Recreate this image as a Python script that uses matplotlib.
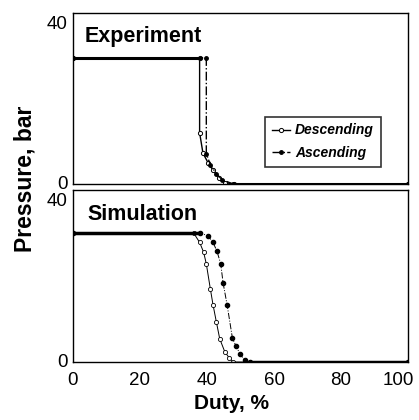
import matplotlib.pyplot as plt
from matplotlib.transforms import ScaledTranslation

# experiment
exp_desc_x = [0, 37.8, 37.8, 38.8, 40.3, 41.8, 43.5, 45.3, 48, 100]
exp_desc_y = [29.5, 29.5, 12.0, 7.2, 5.0, 3.2, 1.5, 0.3, 0, 0]
exp_asc_x = [0, 39.8, 39.8, 41.0, 42.8, 44.5, 47.8, 100]
exp_asc_y = [29.5, 29.5, 7.1, 4.5, 2.4, 1.0, 0, 0]

# simulation
sim_desc_x = [0, 36, 37.8, 39.0, 39.8, 41.0, 41.8, 42.8, 43.8, 45.3, 46.6, 47.8, 100]
sim_desc_y = [30, 30, 27.8, 25.5, 22.8, 17.0, 13.3, 9.3, 5.4, 2.4, 1.0, 0, 0]
sim_asc_x = [0, 38, 40.3, 41.8, 43.0, 44.1, 44.8, 46.0, 47.6, 48.6, 49.9, 51.2, 52.7, 100]
sim_asc_y = [30, 30, 29.3, 27.8, 25.7, 22.8, 18.4, 13.3, 5.5, 3.8, 1.8, 0.5, 0, 0]

xticks = [0, 20, 40, 60, 80, 100]
yticks = [0, 40]

plt.rcParams['font.family'] = ['Liberation Sans', 'DejaVu Sans']
bold = dict(fontweight='bold')

fig = plt.figure(figsize=(4.19, 4.20), dpi=100)
ax1 = fig.add_axes([0.174, 0.562, 0.80, 0.407])
ax2 = fig.add_axes([0.174, 0.138, 0.80, 0.410])

for ax in (ax1, ax2):
    ax.set_xlim(0, 100)
    ax.set_ylim(0, 40)
    ax.set_yticks(yticks)
    ax.tick_params(axis='y', length=0, labelsize=13.5, pad=4)
    ax.tick_params(axis='x', length=0, labelsize=13.5, pad=7)
    for s in ax.spines.values():
        s.set_linewidth(1.0)
    lo, hi = ax.get_yticklabels()
    lo.set_transform(lo.get_transform() + ScaledTranslation(0, 1 / 72, fig.dpi_scale_trans))
    hi.set_va('top')
    hi.set_transform(hi.get_transform() + ScaledTranslation(0, -2.5 / 72, fig.dpi_scale_trans))

ax1.set_xticks([])
ax2.set_xticks(xticks)
last = ax2.get_xticklabels()[-1]
last.set_transform(last.get_transform() + ScaledTranslation(-7 / 72, 0, fig.dpi_scale_trans))

# experiment
ax1.plot(exp_desc_x, exp_desc_y, '-', color='black', lw=1.0, marker='o',
         ms=3, mfc='white', mew=0.7, label='Descending')
ax1.plot(exp_asc_x, exp_asc_y, '-.', color='black', lw=1.0, marker='o',
         ms=2.5, mfc='black', label='Ascending')
ax1.plot(exp_desc_x[:2], exp_desc_y[:2], color='black', lw=2.2)
ax1.plot(exp_asc_x[-2:], exp_asc_y[-2:], color='black', lw=2.2)
ax1.text(3.6, 34.4, 'Experiment', fontsize=15.5, va='center', ha='left', **bold)
leg = ax1.legend(loc='lower right', bbox_to_anchor=(0.94, 0.06), frameon=True,
                 fancybox=False, shadow=False, edgecolor='black',
                 prop=dict(size=10, style='italic', weight='bold'),
                 handlelength=1.3, handletextpad=0.4, borderpad=0.5,
                 labelspacing=0.6)
leg.get_frame().set_linewidth(1.2)

# simulation
ax2.plot(sim_desc_x, sim_desc_y, '-', color='black', lw=0.7, marker='o',
         ms=3, mfc='white', mew=0.6)
ax2.plot(sim_asc_x, sim_asc_y, '-.', color='black', lw=0.7, marker='o',
         ms=3, mfc='black')
ax2.plot(sim_asc_x[:2], sim_asc_y[:2], color='black', lw=2.5)
ax2.plot(sim_asc_x[-2:], sim_asc_y[-2:], color='black', lw=2.5)
ax2.text(4.2, 34.2, 'Simulation', fontsize=15.5, va='center', ha='left', **bold)

fig.text(0.06, 0.575, 'Pressure, bar', rotation=90, ha='center', va='center',
         fontsize=16.5, **bold)
fig.text(0.553, 0.04, 'Duty, %', ha='center', va='center', fontsize=15, **bold)

fig.savefig('out.png', dpi=100)
